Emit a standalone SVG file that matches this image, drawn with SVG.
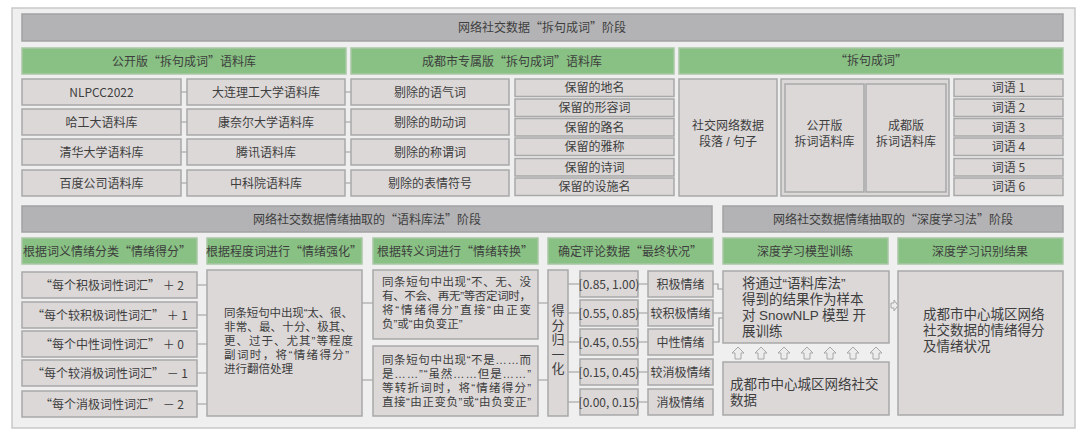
<svg xmlns="http://www.w3.org/2000/svg" width="1080" height="433" viewBox="0 0 1080 433">
<style>
.bg{fill:#efefef;stroke:#c9c9c9;stroke-width:1.5}
.bar{fill:#b3b3b5;stroke:#a2a2a4;stroke-width:1.5}
.grn{fill:#88c183;stroke:#a9c7a6;stroke-width:1.5}
.box{fill:#dcd8d8;stroke:#a9a9a9;stroke-width:1.5}
.t{font-family:"Noto Sans CJK SC","Noto Sans",sans-serif;fill:#3e3e3e;font-size:12px}
.m{font-family:"Liberation Sans","Noto Sans CJK SC",sans-serif;fill:#3e3e3e}
.c{text-anchor:middle}
.ln{fill:none;stroke:#9a9a9a;stroke-width:1.2}
.ar{fill:#ececec;stroke:#a8a8a8;stroke-width:1}
</style>
<rect class="bg" x="12" y="8" width="1063" height="420"/>

<g id="connectors">
<path class="ln" d="M181,92H187M181,122H187M181,152H187M181,183H187M345,92H351M345,122H351M345,152H351M345,183H351"/>
<path class="ln" d="M197,285H207M197,315H207M197,344H207M197,373H207M197,404H207"/>
<path class="ln" d="M362,303H373M362,380H373M538,303H548M538,380H548"/>
<path class="ln" d="M568,284H580M568,313H580M568,342H580M568,372H580M568,402H580"/>
<path class="ln" d="M638,284H648M638,313H648M638,342H648M638,372H648M638,402H648"/>
<path class="ln" d="M713,284H718V289H723M713,313H723M713,342H719V318H723"/>
</g>

<g id="title1"><rect class="bar" x="22" y="14" width="1041" height="27"/><text class="t c" x="542" y="32" font-size="13">网络社交数据“拆句成词”阶段</text></g>
<g id="h-public"><rect class="grn" x="22" y="48" width="324" height="26"/><text class="t c" x="184" y="66" font-size="14">公开版“拆句成词”语料库</text></g>
<g id="h-chengdu"><rect class="grn" x="351" y="48" width="323" height="26"/><text class="t c" x="512" y="66" font-size="14">成都市专属版“拆句成词”语料库</text></g>
<g id="h-split"><rect class="grn" x="679" y="48" width="384" height="26"/><text class="t c" x="871" y="65">“拆句成词”</text></g>

<g id="c1"><rect class="box" x="22" y="79" width="159" height="26"/><text class="t c" x="101.5" y="96.5">NLPCC2022</text></g>
<g id="c2"><rect class="box" x="22" y="109" width="159" height="26"/><text class="t c" x="101.5" y="126.5">哈工大语料库</text></g>
<g id="c3"><rect class="box" x="22" y="139" width="159" height="26"/><text class="t c" x="101.5" y="156.5">清华大学语料库</text></g>
<g id="c4"><rect class="box" x="22" y="170" width="159" height="26"/><text class="t c" x="101.5" y="187.5">百度公司语料库</text></g>
<g id="c5"><rect class="box" x="187" y="79" width="158" height="26"/><text class="t c" x="266" y="96.5">大连理工大学语料库</text></g>
<g id="c6"><rect class="box" x="187" y="109" width="158" height="26"/><text class="t c" x="266" y="126.5">康奈尔大学语料库</text></g>
<g id="c7"><rect class="box" x="187" y="139" width="158" height="26"/><text class="t c" x="266" y="156.5">腾讯语料库</text></g>
<g id="c8"><rect class="box" x="187" y="170" width="158" height="26"/><text class="t c" x="266" y="187.5">中科院语料库</text></g>

<g id="d1"><rect class="box" x="351" y="79" width="158" height="26"/><text class="t c" x="430" y="96.5">剔除的语气词</text></g>
<g id="d2"><rect class="box" x="351" y="109" width="158" height="26"/><text class="t c" x="430" y="126.5">剔除的助动词</text></g>
<g id="d3"><rect class="box" x="351" y="139" width="158" height="26"/><text class="t c" x="430" y="156.5">剔除的称谓词</text></g>
<g id="d4"><rect class="box" x="351" y="170" width="158" height="26"/><text class="t c" x="430" y="187.5">剔除的表情符号</text></g>

<g id="k1"><rect class="box" x="515" y="79" width="159" height="17.5"/><text class="t c" x="594.5" y="92">保留的地名</text></g>
<g id="k2"><rect class="box" x="515" y="99" width="159" height="17.5"/><text class="t c" x="594.5" y="112">保留的形容词</text></g>
<g id="k3"><rect class="box" x="515" y="118.5" width="159" height="17.5"/><text class="t c" x="594.5" y="131.5">保留的路名</text></g>
<g id="k4"><rect class="box" x="515" y="138" width="159" height="17.5"/><text class="t c" x="594.5" y="151">保留的雅称</text></g>
<g id="k5"><rect class="box" x="515" y="158.5" width="159" height="17.5"/><text class="t c" x="594.5" y="171.5">保留的诗词</text></g>
<g id="k6"><rect class="box" x="515" y="178" width="159" height="17.5"/><text class="t c" x="594.5" y="191">保留的设施名</text></g>

<g id="social"><rect class="box" x="679" y="79" width="98" height="117"/><text class="m c" font-size="12" x="728" y="129.5"><tspan x="728">社交网络数据</tspan><tspan x="728" y="145.5">段落 / 句子</tspan></text></g>
<g id="lexicons"><rect class="box" x="781" y="79" width="168" height="117"/>
<rect class="box" x="785" y="84" width="79" height="108"/><text class="m c" font-size="12" x="824.5" y="129.5"><tspan x="824.5">公开版</tspan><tspan x="824.5" y="145.5">拆词语料库</tspan></text>
<rect class="box" x="866" y="84" width="80" height="108"/><text class="m c" font-size="12" x="906" y="129.5"><tspan x="906">成都版</tspan><tspan x="906" y="145.5">拆词语料库</tspan></text></g>

<g id="w1"><rect class="box" x="954" y="79" width="109" height="17.5"/><text class="t c" x="1008.5" y="92">词语 1</text></g>
<g id="w2"><rect class="box" x="954" y="99" width="109" height="17.5"/><text class="t c" x="1008.5" y="112">词语 2</text></g>
<g id="w3"><rect class="box" x="954" y="118.5" width="109" height="17.5"/><text class="t c" x="1008.5" y="131.5">词语 3</text></g>
<g id="w4"><rect class="box" x="954" y="138" width="109" height="17.5"/><text class="t c" x="1008.5" y="151">词语 4</text></g>
<g id="w5"><rect class="box" x="954" y="158.5" width="109" height="17.5"/><text class="t c" x="1008.5" y="171.5">词语 5</text></g>
<g id="w6"><rect class="box" x="954" y="178" width="109" height="17.5"/><text class="t c" x="1008.5" y="191">词语 6</text></g>

<g id="title2"><rect class="bar" x="22" y="206" width="690" height="26"/><text class="t c" x="367" y="224" font-size="14">网络社交数据情绪抽取的“语料库法”阶段</text></g>
<g id="title3"><rect class="bar" x="723" y="206" width="340" height="26"/><text class="t c" x="893" y="224" font-size="14">网络社交数据情绪抽取的“深度学习法”阶段</text></g>

<g id="g1"><rect class="grn" x="22" y="238" width="175" height="26"/><text class="t c" x="107" y="255.5">根据词义情绪分类“情绪得分”</text></g>
<g id="g2"><rect class="grn" x="207" y="238" width="155" height="26"/><text class="t c" x="284" y="255.5">根据程度词进行“情绪强化”</text></g>
<g id="g3"><rect class="grn" x="373" y="238" width="165" height="26"/><text class="t c" x="455" y="255.5">根据转义词进行“情绪转换”</text></g>
<g id="g4"><rect class="grn" x="548" y="238" width="165" height="26"/><text class="t c" x="630" y="255.5">确定评论数据“最终状况”</text></g>
<g id="g5"><rect class="grn" x="723" y="238" width="165" height="26"/><text class="t c" x="805" y="255.5">深度学习模型训练</text></g>
<g id="g6"><rect class="grn" x="898" y="238" width="165" height="26"/><text class="t c" x="980" y="255.5">深度学习识别结果</text></g>

<g id="s1"><rect class="box" x="22" y="272" width="175" height="26"/><text class="t c" x="112" y="289.5">“每个积极词性词汇” ＋ 2</text></g>
<g id="s2"><rect class="box" x="22" y="302" width="175" height="26"/><text class="t c" x="110" y="319.5">“每个较积极词性词汇” ＋ 1</text></g>
<g id="s3"><rect class="box" x="22" y="331" width="175" height="26"/><text class="t c" x="112" y="348.5">“每个中性词性词汇” ＋ 0</text></g>
<g id="s4"><rect class="box" x="22" y="360" width="175" height="26"/><text class="t c" x="110" y="377.5">“每个较消极词性词汇” － 1</text></g>
<g id="s5"><rect class="box" x="22" y="391" width="175" height="26"/><text class="t c" x="112" y="408.5">“每个消极词性词汇” － 2</text></g>

<g id="intensify"><rect class="box" x="207" y="270" width="155" height="146"/>
<text class="m" font-size="11.5"><tspan x="224" y="317" textLength="129">同条短句中出现“太、很、</tspan><tspan x="224" y="331" textLength="128">非常、最、十分、极其、</tspan><tspan x="224" y="345" textLength="129">更、过于、尤其”等程度</tspan><tspan x="224" y="359" textLength="125">副词时，将“情绪得分”</tspan><tspan x="224" y="373">进行翻倍处理</tspan></text></g>

<g id="negate"><rect class="box" x="373" y="270" width="165" height="69"/>
<text class="m" font-size="11.5"><tspan x="382" y="286" textLength="149">同条短句中出现“不、无、没</tspan><tspan x="382" y="300" textLength="149">有、不会、再无”等否定词时，</tspan><tspan x="382" y="314" textLength="149">将“情绪得分”直接“由正变</tspan><tspan x="382" y="328">负”或“由负变正”</tspan></text></g>
<g id="turn"><rect class="box" x="373" y="346" width="165" height="70"/>
<text class="m" font-size="11.5"><tspan x="382" y="364" textLength="149">同条短句中出现“不是……而</tspan><tspan x="382" y="378" textLength="149">是……”“虽然……但是……”</tspan><tspan x="382" y="392" textLength="149">等转折词时，将“情绪得分”</tspan><tspan x="382" y="406" textLength="149">直接“由正变负”或“由负变正”</tspan></text></g>

<g id="normalize"><rect class="box" x="548" y="270" width="20" height="146"/>
<text class="m c" font-size="13"><tspan x="558" y="315">得</tspan><tspan x="558" y="329.6">分</tspan><tspan x="558" y="344.2">归</tspan><tspan x="558" y="358.8">一</tspan><tspan x="558" y="373.4">化</tspan></text></g>

<g id="r1"><rect class="box" x="580" y="271" width="58" height="26"/><text class="t c" x="609" y="288.5" font-size="12.5">[0.85, 1.00)</text></g>
<g id="r2"><rect class="box" x="580" y="300" width="58" height="26"/><text class="t c" x="609" y="317.5" font-size="12.5">[0.55, 0.85)</text></g>
<g id="r3"><rect class="box" x="580" y="329" width="58" height="26"/><text class="t c" x="609" y="346.5" font-size="12.5">[0.45, 0.55)</text></g>
<g id="r4"><rect class="box" x="580" y="359" width="58" height="26"/><text class="t c" x="609" y="376.5" font-size="12.5">[0.15, 0.45)</text></g>
<g id="r5"><rect class="box" x="580" y="389" width="58" height="26"/><text class="t c" x="609" y="406.5" font-size="12.5">[0.00, 0.15)</text></g>

<g id="e1"><rect class="box" x="648" y="271" width="65" height="26"/><text class="t c" x="680.5" y="288.5">积极情绪</text></g>
<g id="e2"><rect class="box" x="648" y="300" width="65" height="26"/><text class="t c" x="680.5" y="317.5">较积极情绪</text></g>
<g id="e3"><rect class="box" x="648" y="329" width="65" height="26"/><text class="t c" x="680.5" y="346.5">中性情绪</text></g>
<g id="e4"><rect class="box" x="648" y="359" width="65" height="26"/><text class="t c" x="680.5" y="376.5">较消极情绪</text></g>
<g id="e5"><rect class="box" x="648" y="389" width="65" height="26"/><text class="t c" x="680.5" y="406.5">消极情绪</text></g>

<g id="train"><rect class="box" x="723" y="271" width="166" height="72"/>
<text class="m" font-size="13.5"><tspan x="742" y="287.5">将通过“语料库法”</tspan><tspan x="742" y="303.7">得到的结果作为样本</tspan><tspan x="742" y="319.9" textLength="124">对 SnowNLP 模型 开</tspan><tspan x="742" y="336.1">展训练</tspan></text></g>
<g id="data"><rect class="box" x="723" y="362" width="166" height="53"/>
<text class="m" font-size="13.5"><tspan x="730" y="388.5">成都市中心城区网络社交</tspan><tspan x="730" y="404.7">数据</tspan></text></g>
<g id="result"><rect class="box" x="898" y="271" width="165" height="144"/>
<text class="m" font-size="13.5"><tspan x="923" y="318.8">成都市中心城区网络</tspan><tspan x="923" y="335">社交数据的情绪得分</tspan><tspan x="923" y="351.2">及情绪状况</tspan></text></g>

<g id="arrows">
<polygon class="ar" points="738,347 744,353 741,353 741,359 735,359 735,353 732,353"/>
<polygon class="ar" points="761,347 767,353 764,353 764,359 758,359 758,353 755,353"/>
<polygon class="ar" points="784,347 790,353 787,353 787,359 781,359 781,353 778,353"/>
<polygon class="ar" points="807,347 813,353 810,353 810,359 804,359 804,353 801,353"/>
<polygon class="ar" points="830,347 836,353 833,353 833,359 827,359 827,353 824,353"/>
<polygon class="ar" points="853,347 859,353 856,353 856,359 850,359 850,353 847,353"/>
<polygon class="ar" points="876,347 882,353 879,353 879,359 873,359 873,353 870,353"/>
<polygon class="ar" points="891,303 894,303 894,300 898,305.5 894,311 894,308 891,308"/>
</g>
</svg>
